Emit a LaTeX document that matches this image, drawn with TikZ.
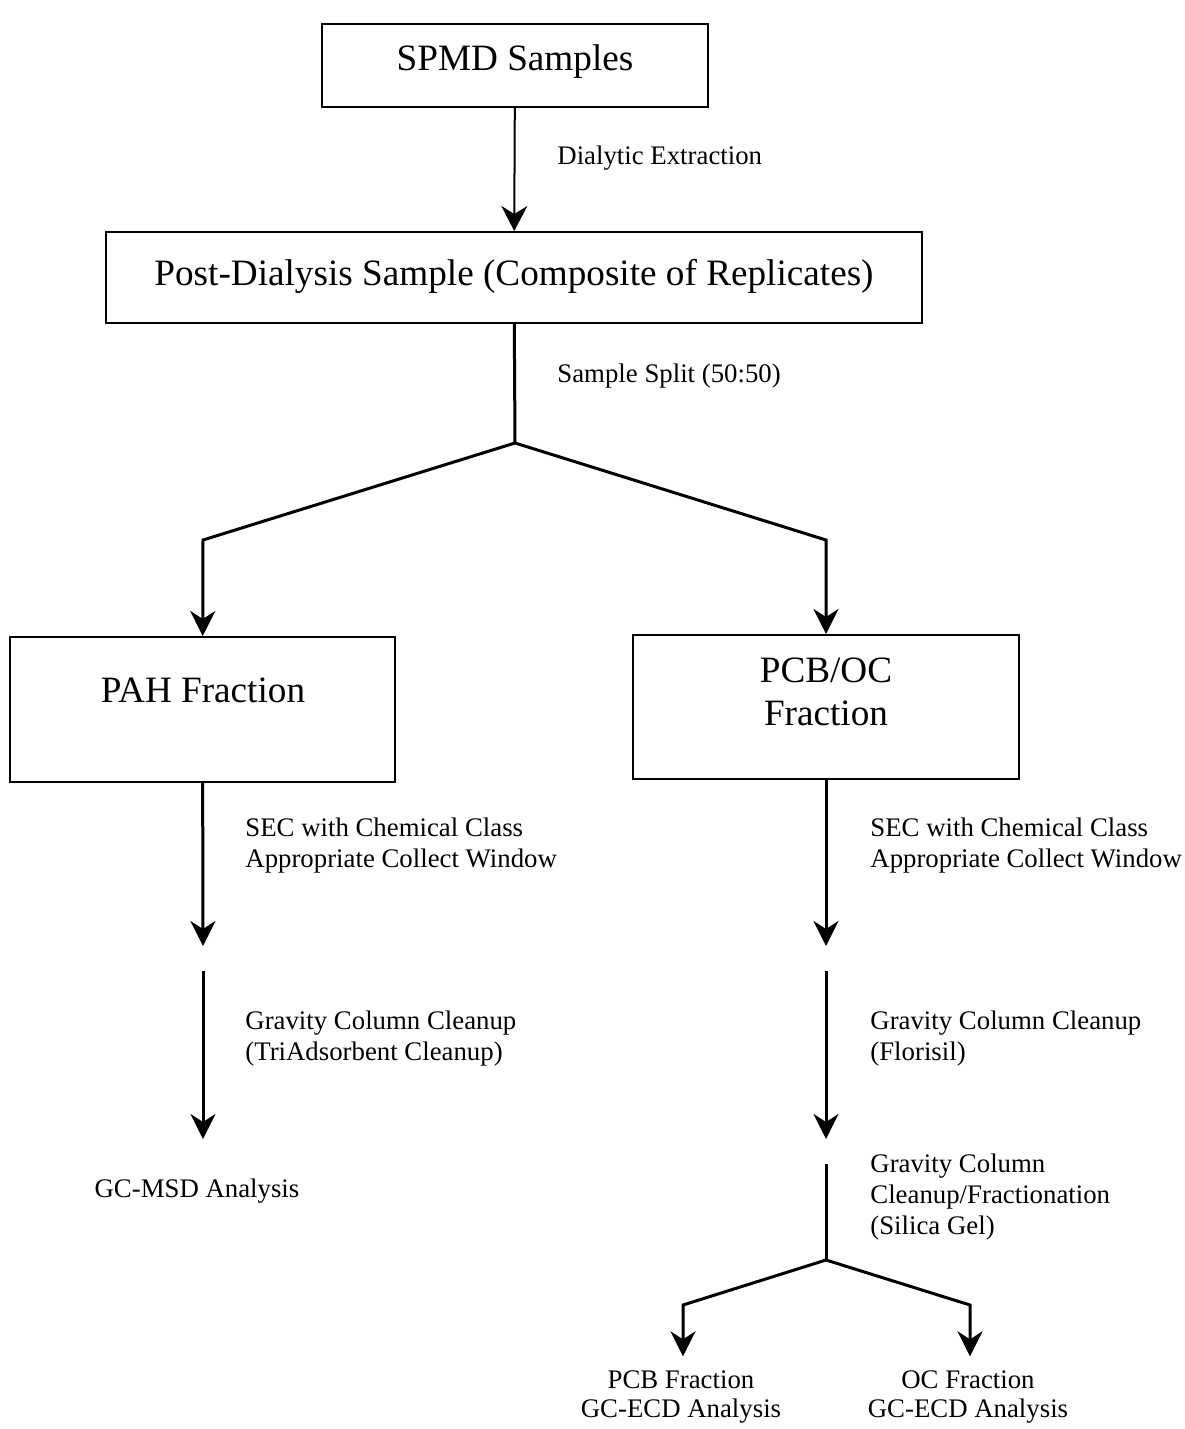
\documentclass[tikz,border=0pt]{standalone}
\usepackage{fontspec}
\setmainfont{Liberation Serif}
\usetikzlibrary{arrows.meta}
\usetikzlibrary{positioning}
\usetikzlibrary{calc}

\begin{document}
\begin{tikzpicture}[x=0.5pt,y=-0.5pt,
box_style/.style={draw,line width=1pt,inner sep=0pt},
big_text/.style={font=\fontsize{18.6}{21.5}\selectfont,align=center},
step_text/.style={font=\fontsize{13.4}{15.5}\selectfont,align=left,anchor=west,inner sep=0pt},
end_text/.style={font=\fontsize{13.4}{14.5}\selectfont,align=center,inner sep=0pt},
flow_style/.style={line width=1.5pt,-{Stealth[length=12.5pt,width=12.5pt,inset=4pt]}},
thin_flow/.style={line width=1pt,-{Stealth[length=12.5pt,width=13pt,inset=4pt]}},
split_style/.style={line width=1.5pt,line join=miter}]

\useasboundingbox (0,0) rectangle (1184,1429);

% boxes
\node[box_style,minimum width=193pt,minimum height=41.5pt] (spmd) at (515,65.5) {};
\node[big_text] (spmdtext) at (515,62) {SPMD Samples};
\node[box_style,minimum width=408pt,minimum height=45.5pt] (post) at (514,277.5) {};
\node[big_text] (posttext) at (514,276) {Post-Dialysis Sample (Composite of Replicates)};
\node[box_style,minimum width=192.5pt,minimum height=72.5pt] (pah) at (202.5,709.5) {};
\node[big_text] (pahtext) at (203,690) {PAH Fraction};
\node[box_style,minimum width=193pt,minimum height=72pt] (pcb) at (826,707) {};
\node[big_text] (pcbtext) at (826,692) {PCB/OC\\Fraction};

% split points
\coordinate (split) at (515,443);
\coordinate (pahturn) at (203,540);
\coordinate (pcbturn) at (826,540);
\foreach \c/\x in {pah/203,pcb/826}{
 \coordinate (\c a) at (\x,946);
 \coordinate (\c b) at (\x,971);
 \coordinate (\c c) at (\x,1139);
}
\coordinate (pcbd) at (826,1164);
\coordinate (silica) at (826,1260);
\coordinate (pcbfturn) at (683,1305);
\coordinate (ocfturn) at (970,1305);

% labels
\node[step_text] (dialytic) at (557,158) {Dialytic Extraction};
\node[step_text] (splitlabel) at (557,376) {Sample Split (50:50)};
\node[step_text] (pahsec) at (245,846) {SEC with Chemical Class\\Appropriate Collect Window};
\node[step_text] (pahgrav) at (245,1039) {Gravity Column Cleanup\\(TriAdsorbent Cleanup)};
\node[step_text] (pcbsec) at (870,846) {SEC with Chemical Class\\Appropriate Collect Window};
\node[step_text] (pcbgrav) at (870,1039) {Gravity Column Cleanup\\(Florisil)};
\node[step_text] (pcbsil) at (870,1197) {Gravity Column\\Cleanup/Fractionation\\(Silica Gel)};
\node[end_text] (gcmsd) at (197,1191) {GC-MSD Analysis};
\node[end_text] (pcbfrac) at (681,1397) {PCB Fraction\\GC-ECD Analysis};
\node[end_text] (ocfrac) at (968,1397) {OC Fraction\\GC-ECD Analysis};

% connectors
\draw[thin_flow] (spmd) -- (post);
\draw[split_style] (post) -- (split);
\draw[flow_style] (split) -- (pahturn) -- (pah);
\draw[flow_style] (split) -- (pcbturn) -- (pcb);
\foreach \c in {pah,pcb}{
 \draw[flow_style] (\c) -- (\c a);
 \draw[flow_style] (\c b) -- (\c c);
}
\draw[split_style] (pcbd) -- (silica);
\draw[flow_style,shorten >=7pt] (silica) -- (pcbfturn) -- (pcbfrac.north -| pcbfturn);
\draw[flow_style,shorten >=7pt] (silica) -- (ocfturn) -- (ocfrac.north -| ocfturn);
\end{tikzpicture}
\end{document}
